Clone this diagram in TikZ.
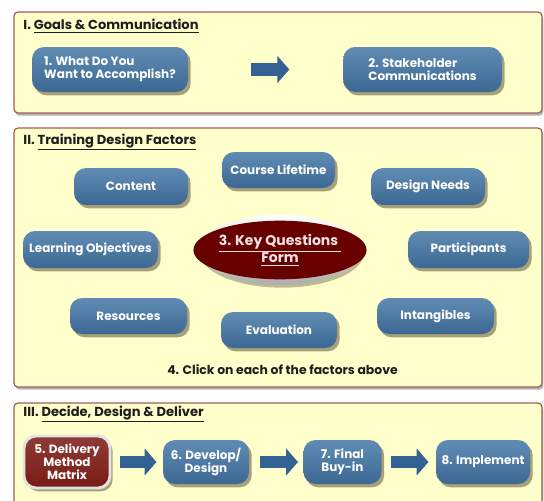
\documentclass[tikz,border=0pt]{standalone}
\usepackage{fontspec}
\setmainfont{Poppins}
\usetikzlibrary{shapes.geometric,shadows,arrows.meta}

\definecolor{panelfill}{RGB}{255,255,204}
\definecolor{paneledge}{RGB}{165,92,86}
\definecolor{boxtop}{RGB}{96,140,180}
\definecolor{boxbottom}{RGB}{60,103,146}
\definecolor{arrowblue}{RGB}{50,98,148}
\definecolor{keyred}{RGB}{104,0,0}
\definecolor{matrixred}{RGB}{122,26,20}
\definecolor{boxshade}{RGB}{95,85,55}
\definecolor{titletext}{RGB}{30,30,30}
\definecolor{keytext}{RGB}{246,226,226}

\tikzset{every picture/.style={line width=0.75pt}}
\tikzset{
  panel/.style={draw=paneledge, fill=panelfill, rounded corners=3pt, line width=0.9pt,
    drop shadow={shadow xshift=1pt, shadow yshift=-2pt, fill=gray, opacity=0.6}},
  bluebox/.style={rounded corners=9pt, top color=boxtop, bottom color=boxbottom, text=white,
    font=\bfseries\fontsize{9}{9.7}\selectfont, align=center, inner sep=0pt,
    drop shadow={shadow xshift=2pt, shadow yshift=-2.5pt, fill=boxshade, opacity=0.55}},
  redbox/.style={bluebox, top color=matrixred!85!white, bottom color=matrixred,
    draw={rgb,255:red,226;green,226;blue,226}, line width=2.2pt},
  blockarrow/.style={arrowblue, line width=9.5pt, -{Triangle[width=20pt,length=9pt]}},
  paneltitle/.style={anchor=west, inner sep=0.75pt, text=titletext,
    font=\bfseries\fontsize{9.8}{11}\selectfont},
}

\begin{document}
\begin{tikzpicture}[x=0.75pt,y=0.75pt,yscale=-1,xscale=1]
\clip (0,0) rectangle (544,501);
\path[use as bounding box] (0,0) rectangle (544,501);

%Shape: Rectangle
\draw [panel] (14,12) rectangle (542,113);
%Shape: Rectangle
\draw [panel] (14,128) rectangle (542,387);
%Shape: Rectangle
\draw [panel] (14,403) rectangle (542,520);

% Text Node
\draw (22,26) node [paneltitle] (goalstitle) {I. \underline{Goals \& Communication}};
% Text Node
\draw (22,142) node [paneltitle] (factorstitle) {II. \underline{Training Design Factors}};
% Text Node
\draw (22,414) node [paneltitle] (delivertitle) {III. \underline{Decide, Design \& Deliver}};

% I. goals
\draw (110,69.5) node [bluebox, align=left, minimum width=117pt, minimum height=33.75pt] (what) {1. What Do You\\Want to Accomplish?};
\draw (422.5,69.5) node [bluebox, align=left, minimum width=119pt, minimum height=33.75pt] (stake) {2. Stakeholder\\Communications};
%Straight Lines
\draw [blockarrow, shorten <=47pt, shorten >=40pt] (what) -- (stake);

% II. factors
%Shape: Ellipse
\draw (280,250) node [ellipse, minimum width=123pt, minimum height=52.5pt, top color=white, bottom color=gray!65,
  drop shadow={shadow xshift=1.5pt, shadow yshift=-2pt, fill=boxshade, opacity=0.4}] (keyring) {};
\draw (280,250) node [ellipse, fill=keyred, minimum width=113pt, minimum height=44pt, inner sep=0pt,
  text=keytext, align=center, font=\bfseries\fontsize{10.5}{12}\selectfont] (keyq) {\underline{3. Key Questions\ }\\\underline{Form}};

\draw (278.5,170) node [bluebox, minimum width=84.75pt, minimum height=27pt] (lifetime) {Course Lifetime};
\draw (131,186.5) node [bluebox, minimum width=85.5pt, minimum height=27.75pt] (content) {Content};
\draw (428,186.5) node [bluebox, minimum width=85.5pt, minimum height=27.75pt] (needs) {Design Needs};
\draw (90.5,249.5) node [bluebox, minimum width=101.25pt, minimum height=27.75pt] (objectives) {Learning Objectives};
\draw (468.5,249.5) node [bluebox, minimum width=90.75pt, minimum height=27.75pt] (participants) {Participants};
\draw (128.5,316) node [bluebox, minimum width=87.75pt, minimum height=27pt] (resources) {Resources};
\draw (279,330) node [bluebox, minimum width=87pt, minimum height=27pt] (evaluation) {Evaluation};
\draw (435.5,316) node [bluebox, minimum width=87.75pt, minimum height=27pt] (intangibles) {Intangibles};

% Text Node
\draw (282.5,370) node [paneltitle, anchor=center, font=\bfseries\fontsize{9.3}{11}\selectfont] (clickhint) {4. Click on each of the factors above};

% III. decide, design and deliver
\draw (67,462) node [redbox, minimum width=64.5pt, minimum height=39pt] (matrix) {5. Delivery\\Method\\Matrix};
\draw (206,462) node [bluebox, minimum width=64.5pt, minimum height=33pt] (develop) {6. Develop/\\Design};
\draw (342.5,462) node [bluebox, minimum width=58.5pt, minimum height=33pt] (buyin) {7. Final\\Buy-in};
\draw (483,462) node [bluebox, minimum width=70.5pt, minimum height=33pt] (implement) {8. Implement};

%Straight Lines
\draw [blockarrow, shorten <=6.75pt, shorten >=4.5pt] (matrix) -- (develop);
%Straight Lines
\draw [blockarrow, shorten <=7.5pt, shorten >=3.75pt] (develop) -- (buyin);
%Straight Lines
\draw [blockarrow, shorten <=6.75pt, shorten >=5.25pt] (buyin) -- (implement);

\end{tikzpicture}
\end{document}
